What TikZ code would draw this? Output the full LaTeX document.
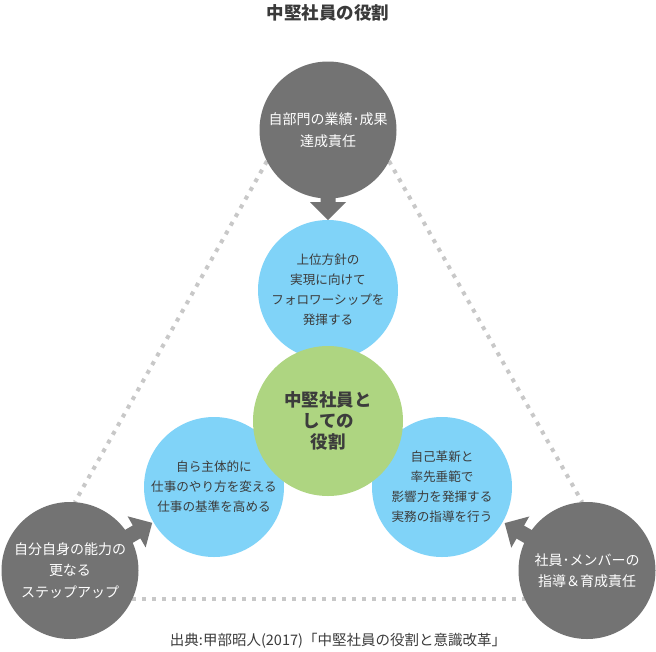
\documentclass[tikz,border=0pt]{standalone}
\usepackage{fontspec}
\setmainfont{Noto Sans CJK JP}
\usetikzlibrary{calc,backgrounds}
\definecolor{darkc}{HTML}{737373}
\definecolor{bluec}{HTML}{80D3F8}
\definecolor{greenc}{HTML}{AED581}
\definecolor{dotc}{HTML}{C8C8C8}
\definecolor{txtc}{HTML}{3C3C3C}
\definecolor{titlec}{HTML}{3A3A3A}
\newcommand{\blockarr}[4]{%
  \fill[blockarrow]
    ($(#1)!50pt!(#2)!7.5pt!90:(#2)$) --
    ($(#1)!#3pt!(#2)!7.5pt!90:(#2)$) --
    ($(#1)!#3pt!(#2)!18pt!90:(#2)$) --
    ($(#1)!#4pt!(#2)$) --
    ($(#1)!#3pt!(#2)!18pt!-90:(#2)$) --
    ($(#1)!#3pt!(#2)!7.5pt!-90:(#2)$) --
    ($(#1)!50pt!(#2)!7.5pt!-90:(#2)$) -- cycle;}
\begin{document}
\begin{tikzpicture}[x=1pt,y=-1pt,
  darkcircle/.style={circle, fill=darkc, minimum size=137pt, inner sep=0pt, outer sep=0pt,
    text=white, align=center, font=\fontsize{14}{21.5}\selectfont},
  bluecircle/.style={circle, fill=bluec, minimum size=140pt, inner sep=0pt, outer sep=0pt,
    text=txtc, align=center, font=\fontsize{12.6}{20}\selectfont},
  greencircle/.style={circle, fill=greenc, minimum size=150pt, inner sep=0pt, outer sep=0pt,
    text=txtc, align=center, font=\bfseries\fontsize{17.5}{21}\selectfont},
  dotline/.style={draw=dotc, line width=4pt, dash pattern=on 4pt off 6pt},
  blockarrow/.style={fill=darkc},
]
\useasboundingbox (0,0) rectangle (656,651);

\node[font=\bfseries\fontsize{17.5}{20}\selectfont, text=titlec] (title) at (328,13) {中堅社員の役割};

\node[darkcircle] (top) at (328,130) {自部門の業績･成果\\達成責任};
\node[darkcircle] (bl) at (70,570.5) {自分自身の能力の\\更なる\\ステップアップ};
\node[darkcircle] (br) at (587,570.5) {社員･メンバーの\\指導＆育成責任};

\node[bluecircle] (tb) at (328,290) {上位方針の\\実現に向けて\\フォロワーシップを\\発揮する};
\node[bluecircle] (lb) at (214,487) {自ら主体的に\\仕事のやり方を変える\\仕事の基準を高める};
\node[bluecircle] (rb) at (442,487) {自己革新と\\率先垂範で\\影響力を発揮する\\実務の指導を行う};

\node[greencircle] (center) at (328,421) {中堅社員と\\しての\\役割};

\begin{scope}[on background layer]
\fill[white] (0,0) rectangle (656,651);
\draw[dotline] (top.207) -- (bl.86);
\draw[dotline] (top.333) -- (br.94);
\draw[dotline] (bl.-25) -- (br.205);
\blockarr{top}{tb}{72}{90}
\blockarr{bl}{lb}{77}{95}
\blockarr{br}{rb}{77}{95}
\end{scope}

\node[font=\fontsize{14.5}{16}\selectfont, text=txtc] (src) at (338,641) {出典:甲部昭人(2017)「中堅社員の役割と意識改革」};
\end{tikzpicture}
\end{document}
